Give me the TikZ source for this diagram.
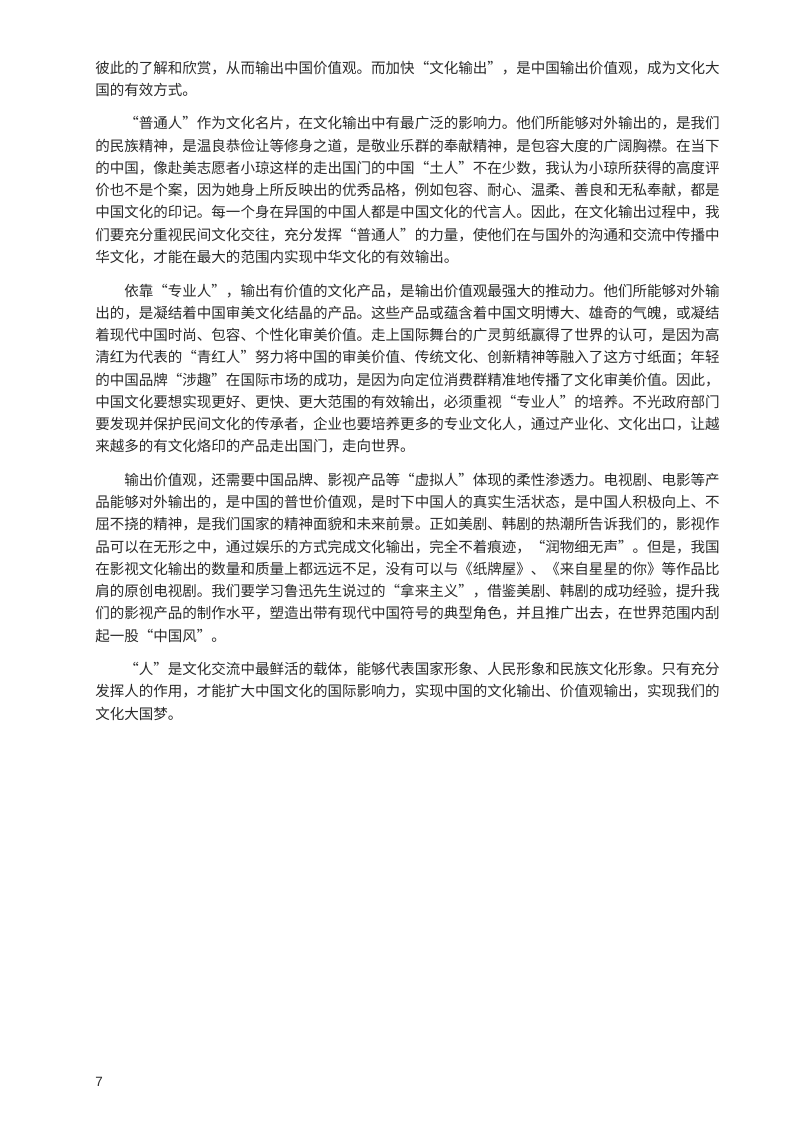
\documentclass[tikz,border=0pt]{standalone}
\usepackage{fontspec}
\setmainfont{Noto Sans CJK SC}
\setsansfont{Liberation Sans}
\definecolor{ink}{HTML}{2A2A2A}
\tikzset{txt/.style={anchor=west,inner sep=0pt,text=ink,font=\fontsize{10.8pt}{12pt}\selectfont}}
\newcommand\Lin[3]{\node[txt] (#1) at (70.7pt,{-(#2)/1.3445*1pt}) {#3};}
\newcommand\Ind{\hspace*{2em}}
\begin{document}
\begin{tikzpicture}
\useasboundingbox[fill=white] (0,0) rectangle (595pt,-842pt);
\Lin{a1}{68}{彼此的了解和欣赏，从而输出中国价值观。而加快“文化输出”，是中国输出价值观，成为文化大}
\Lin{a2}{90}{国的有效方式。}
\Lin{b1}{123}{\Ind“普通人”作为文化名片，在文化输出中有最广泛的影响力。他们所能够对外输出的，是我们}
\Lin{b2}{146}{的民族精神，是温良恭俭让等修身之道，是敬业乐群的奉献精神，是包容大度的广阔胸襟。在当下}
\Lin{b3}{168}{的中国，像赴美志愿者小琼这样的走出国门的中国“土人”不在少数，我认为小琼所获得的高度评}
\Lin{b4}{190}{价也不是个案，因为她身上所反映出的优秀品格，例如包容、耐心、温柔、善良和无私奉献，都是}
\Lin{b5}{212}{中国文化的印记。每一个身在异国的中国人都是中国文化的代言人。因此，在文化输出过程中，我}
\Lin{b6}{235}{们要充分重视民间文化交往，充分发挥“普通人”的力量，使他们在与国外的沟通和交流中传播中}
\Lin{b7}{257}{华文化，才能在最大的范围内实现中华文化的有效输出。}
\Lin{c1}{291}{\Ind 依靠“专业人”，输出有价值的文化产品，是输出价值观最强大的推动力。他们所能够对外输}
\Lin{c2}{313}{出的，是凝结着中国审美文化结晶的产品。这些产品或蕴含着中国文明博大、雄奇的气魄，或凝结}
\Lin{c3}{335}{着现代中国时尚、包容、个性化审美价值。走上国际舞台的广灵剪纸赢得了世界的认可，是因为高}
\Lin{c4}{358}{清红为代表的“青红人”努力将中国的审美价值、传统文化、创新精神等融入了这方寸纸面；年轻}
\Lin{c5}{380}{的中国品牌“涉趣”在国际市场的成功，是因为向定位消费群精准地传播了文化审美价值。因此，}
\Lin{c6}{402}{中国文化要想实现更好、更快、更大范围的有效输出，必须重视“专业人”的培养。不光政府部门}
\Lin{c7}{424}{要发现并保护民间文化的传承者，企业也要培养更多的专业文化人，通过产业化、文化出口，让越}
\Lin{c8}{446}{来越多的有文化烙印的产品走出国门，走向世界。}
\Lin{d1}{480}{\Ind 输出价值观，还需要中国品牌、影视产品等“虚拟人”体现的柔性渗透力。电视剧、电影等产}
\Lin{d2}{502}{品能够对外输出的，是中国的普世价值观，是时下中国人的真实生活状态，是中国人积极向上、不}
\Lin{d3}{524}{屈不挠的精神，是我们国家的精神面貌和未来前景。正如美剧、韩剧的热潮所告诉我们的，影视作}
\Lin{d4}{547}{品可以在无形之中，通过娱乐的方式完成文化输出，完全不着痕迹，“润物细无声”。但是，我国}
\Lin{d5}{569}{在影视文化输出的数量和质量上都远远不足，没有可以与《纸牌屋》、《来自星星的你》等作品比}
\Lin{d6}{591}{肩的原创电视剧。我们要学习鲁迅先生说过的“拿来主义”，借鉴美剧、韩剧的成功经验，提升我}
\Lin{d7}{613}{们的影视产品的制作水平，塑造出带有现代中国符号的典型角色，并且推广出去，在世界范围内刮}
\Lin{d8}{636}{起一股“中国风”。}
\Lin{e1}{669}{\Ind“人”是文化交流中最鲜活的载体，能够代表国家形象、人民形象和民族文化形象。只有充分}
\Lin{e2}{691}{发挥人的作用，才能扩大中国文化的国际影响力，实现中国的文化输出、价值观输出，实现我们的}
\Lin{e3}{714}{文化大国梦。}
\node[txt,font=\sffamily\fontsize{10pt}{12pt}\selectfont] (pg) at (70.7pt,{-1082/1.3445*1pt}) {7};
\end{tikzpicture}
\end{document}
